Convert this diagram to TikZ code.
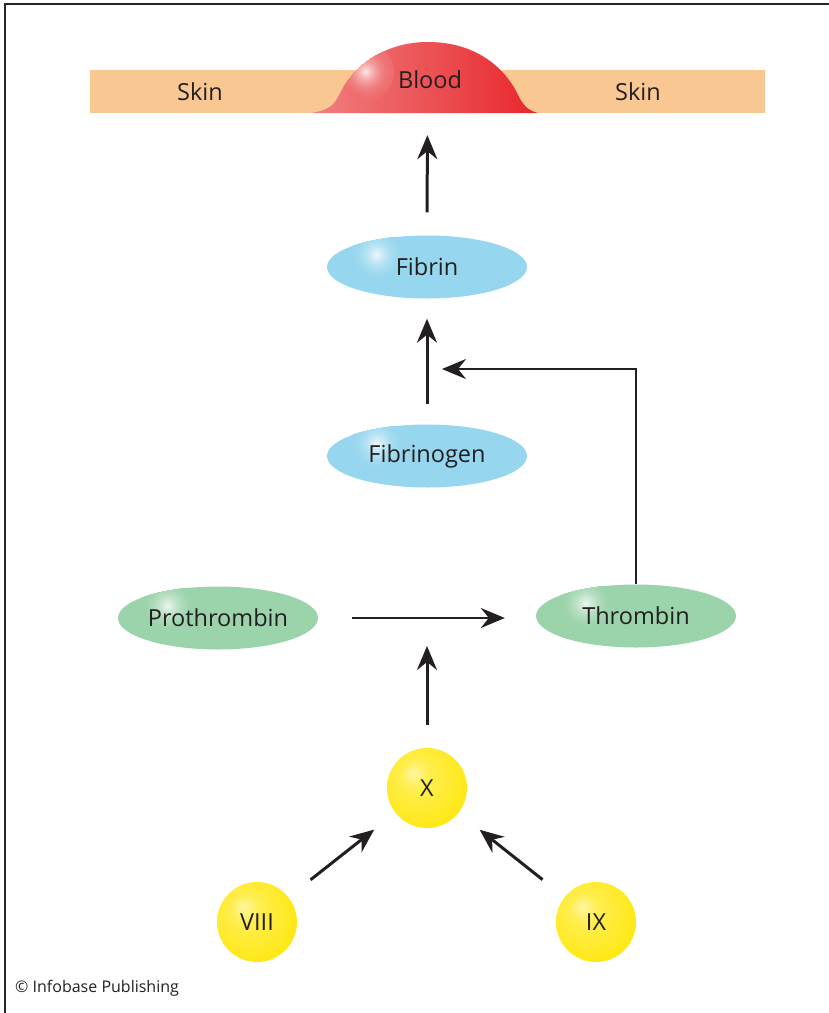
\documentclass[tikz,border=0pt]{standalone}
\usepackage{fontspec}
\setmainfont{Open Sans}
\usetikzlibrary{arrows.meta,shapes.geometric}
\definecolor{ink}{RGB}{35,31,32}
\definecolor{skintone}{RGB}{249,200,146}
\definecolor{bloodpink}{RGB}{240,128,128}
\definecolor{bloodred}{RGB}{232,38,44}
\definecolor{serumblue}{RGB}{150,214,238}
\definecolor{leafgreen}{RGB}{155,211,170}
\definecolor{lemon}{RGB}{255,232,20}
\colorlet{bloodspot}{bloodred!20!bloodpink}
\pgfdeclareradialshading{yellowball}{\pgfpoint{-9bp}{10bp}}{color(0bp)=(white!60!lemon); color(9bp)=(white!25!lemon); color(30bp)=(lemon); color(50bp)=(lemon)}
% soft white spot: colour, centre
\newcommand\shine[2]{\foreach \r in {28,27,...,1}{\pgfmathsetmacro\w{88*(1-\r/28)^2}\fill[white!\w!#1] #2 circle (\r);}}
\tikzset{
	frame/.style={line width=2.5pt, draw=black!85},
	word/.style={font=\fontsize{23.5}{27}\selectfont, text=ink, inner sep=0pt},
	factor/.style={word, ellipse, minimum width=200pt, minimum height=63pt, fill=#1,
		path picture={\shine{#1}{([shift={(-50,-12)}]path picture bounding box.center)}}},
	ball/.style={word, circle, minimum size=80pt, shading=yellowball},
	flow/.style={-{Stealth[length=24pt, width=20pt, inset=8pt]}, line width=3pt, draw=ink},
}
\begin{document}
\begin{tikzpicture}[x=1pt, y=-1pt]
	\useasboundingbox (0,0) rectangle (829,1013);
	\draw[frame] (829,4) -- (5,4) -- (5,1013);
	% skin and blood
	\node[shade, top color=skintone, middle color=skintone!60!white, bottom color=skintone,
		minimum width=675pt, minimum height=42pt, inner sep=0pt] (band) at (427.5,91) {};
	\shade[left color=bloodpink, right color=bloodred,
		path picture={\shine{bloodspot}{(366,72)}}]
		(312,113) .. controls (326,110) and (332,108) .. (338,97)
		.. controls (352,68) and (382,42) .. (428,42)
		.. controls (476,42) and (506,68) .. (519,97)
		.. controls (525,108) and (530,111) .. (538,113) -- cycle;
	\node[word] (skinleft) at (200,92) {Skin};
	\node[word] (blood) at (430,80) {Blood};
	\node[word] (skinright) at (638,92) {Skin};
	% factors
	\node[factor=serumblue] (fibrin) at (427,267) {Fibrin};
	\node[factor=serumblue] (fibrinogen) at (427,456) {Fibrinogen};
	\node[factor=leafgreen] (prothrombin) at (218,618) {Prothrombin};
	\node[factor=leafgreen] (thrombin) at (636,616) {Thrombin};
	\node[ball] (x) at (427,788) {X};
	\node[ball] (viii) at (257,922) {VIII};
	\node[ball] (ix) at (596,922) {IX};
	\coordinate (join) at (prothrombin.east -| x);
	\coordinate (meet) at (442,369);
	% arrows
	\draw[flow, shorten <=23pt, shorten >=23pt] (fibrin.north) -- (band.south);
	\draw[flow, shorten <=20pt, shorten >=20pt] (fibrinogen) -- (fibrin);
	\draw[flow, line width=2.5pt] (thrombin.north) |- (meet);
	\draw[flow, line width=2.5pt, shorten <=34pt, shorten >=31pt] (prothrombin.east) -- (prothrombin.east -| thrombin.west);
	\draw[flow, shorten <=23pt, shorten >=28pt] (x) -- (join);
	\draw[flow, shorten <=28pt, shorten >=27pt] (viii) -- (x);
	\draw[flow, shorten <=28pt, shorten >=27pt] (ix) -- (x);
	\node[anchor=west, font=\fontsize{16}{19}\selectfont, text=ink, inner sep=0pt] (credit) at (15,988) {© Infobase Publishing};
\end{tikzpicture}
\end{document}
